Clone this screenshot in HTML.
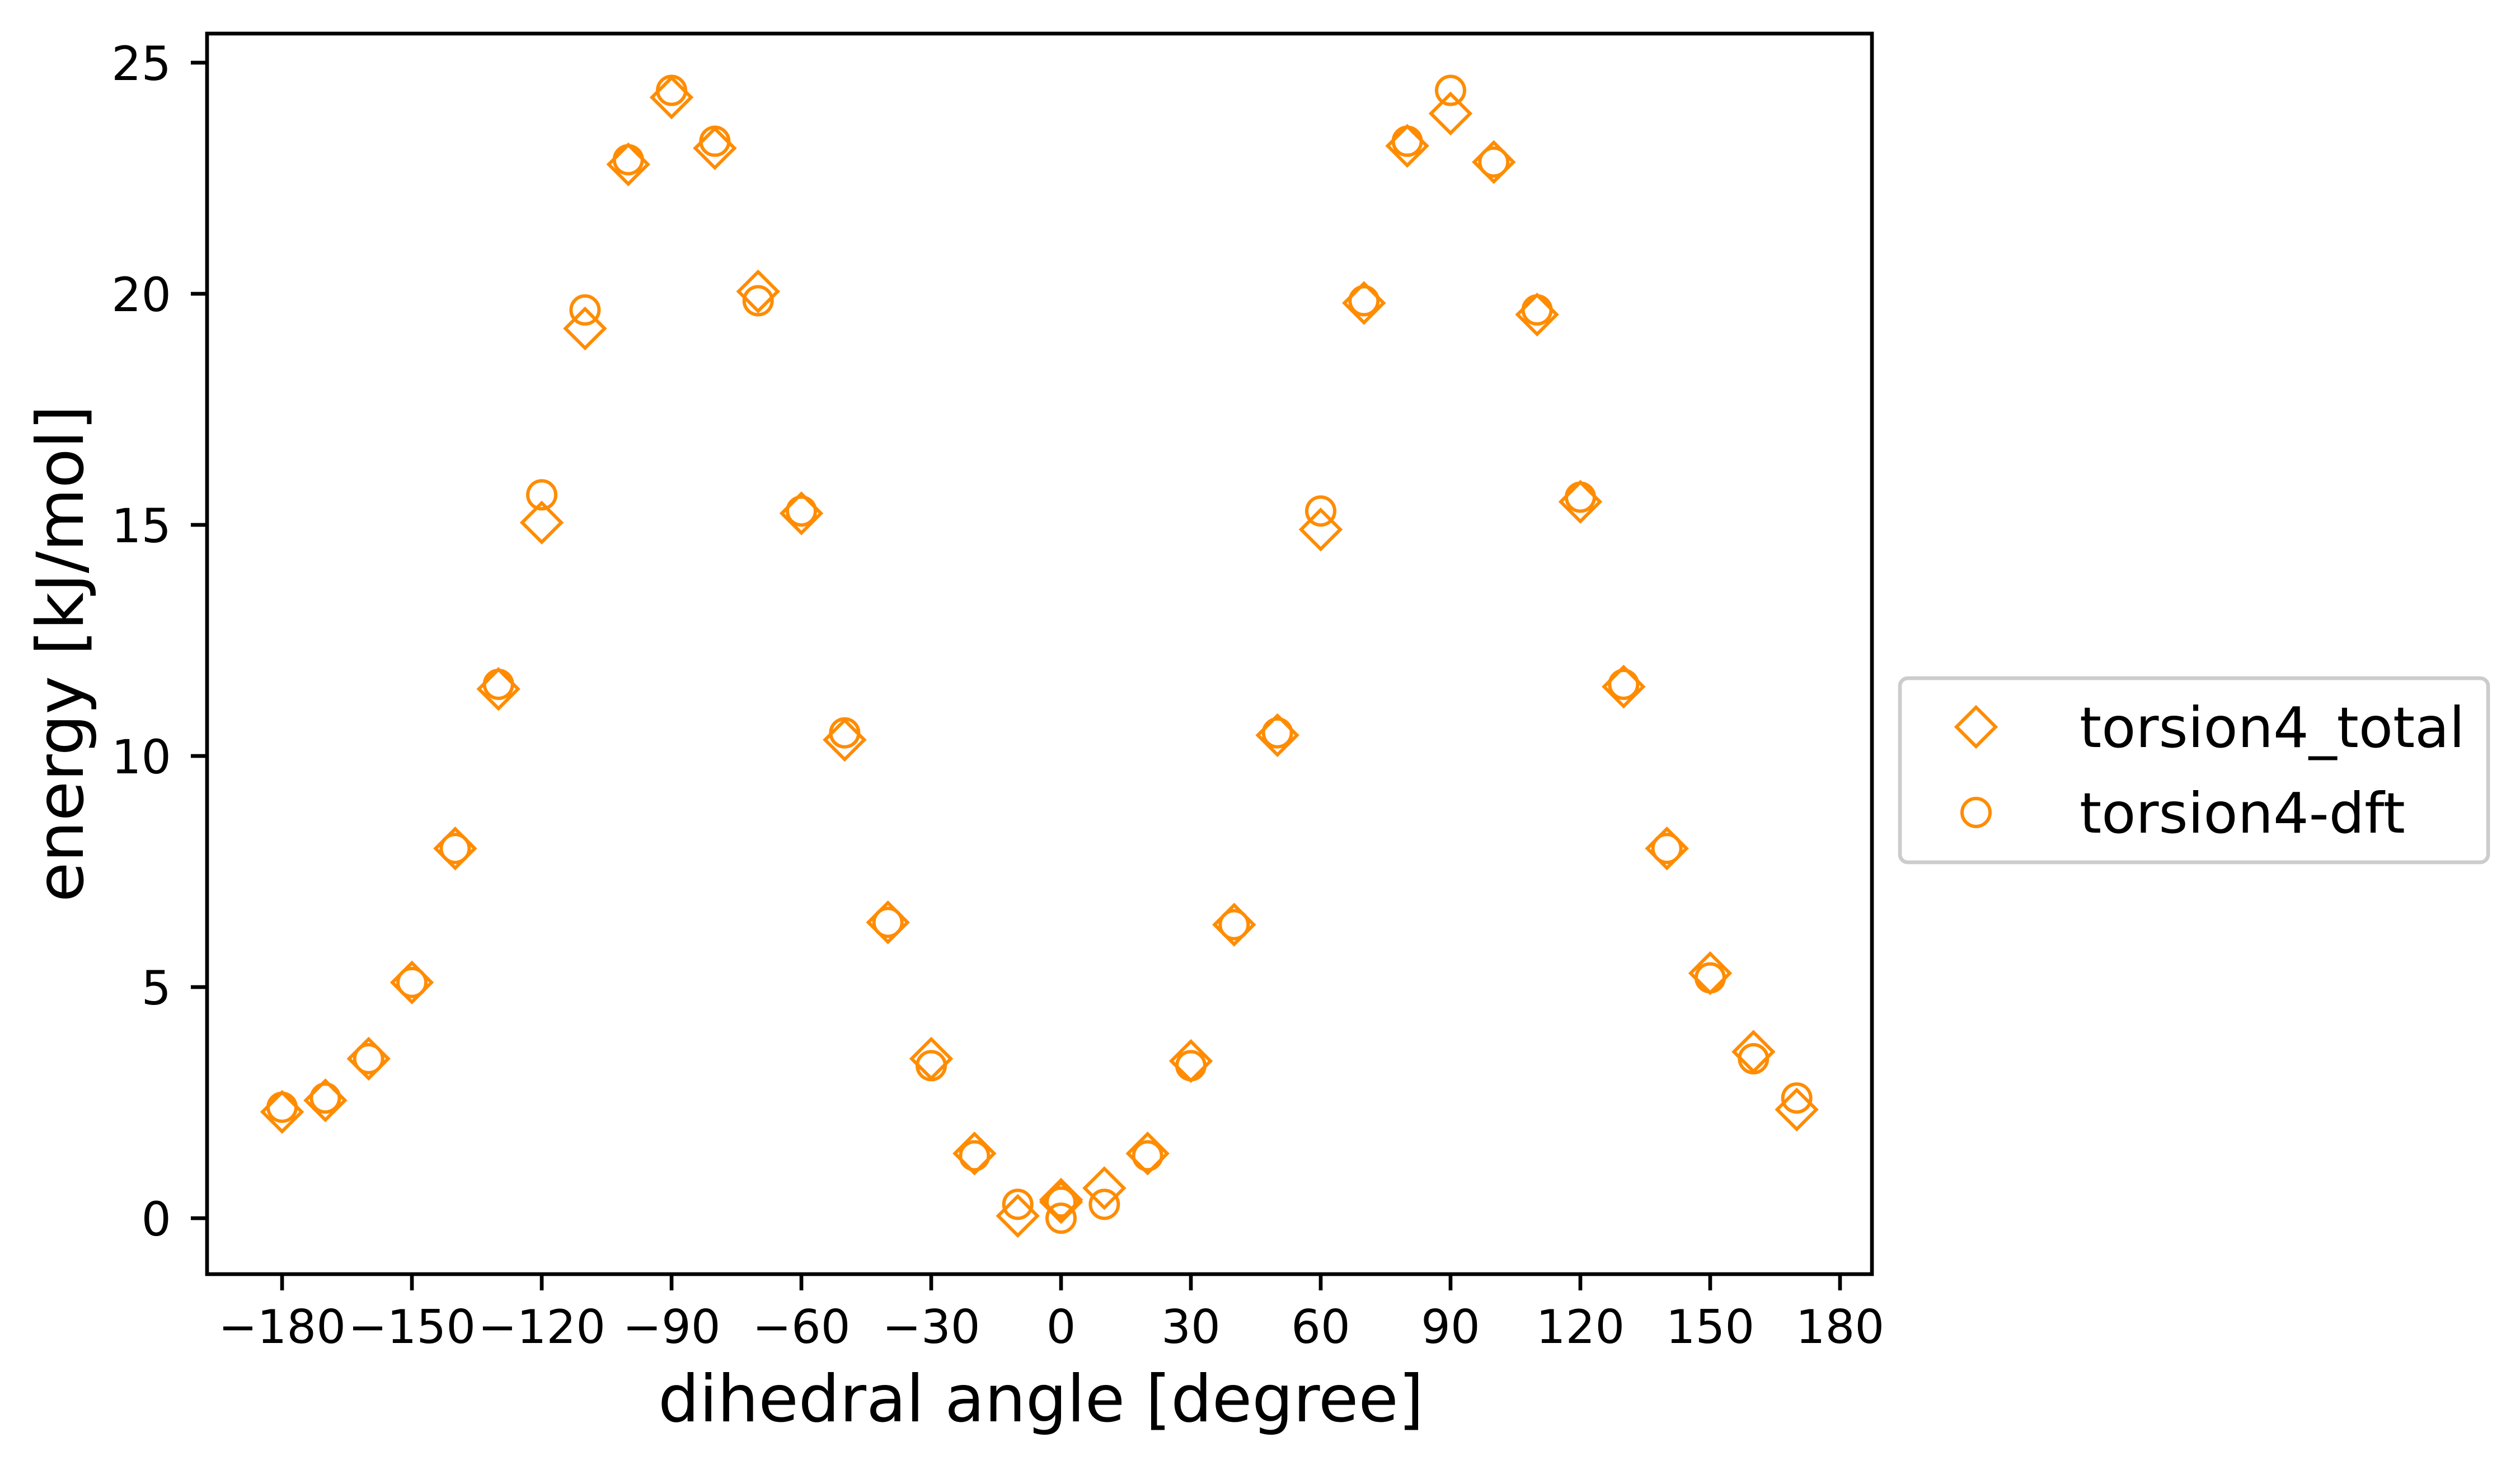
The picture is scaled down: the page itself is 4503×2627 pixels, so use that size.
<!DOCTYPE html>
<html><head><meta charset="utf-8"><style>
html,body{margin:0;padding:0;background:#fff;}
svg text{font-family:"DejaVu Sans","Liberation Sans",sans-serif;}
</style></head><body>
<svg id="chart" width="4503" height="2622" viewBox="0 0 4503 2622" xmlns="http://www.w3.org/2000/svg">
<rect x="0" y="0" width="4503" height="2622" fill="#fff"/>
<g id="marks"></g>
<rect x="370" y="60" width="2975" height="2217" fill="none" stroke="#000" stroke-width="6.7"/>
<g id="xticks"></g><g id="yticks"></g>
<text x="1860" y="2540" font-size="116" text-anchor="middle">dihedral angle [degree]</text>
<text x="0" y="0" font-size="116" text-anchor="middle" transform="translate(148,1168) rotate(-90)">energy [kJ/mol]</text>
<g transform="translate(-20,-9)">
<rect x="3415" y="1221" width="1051" height="329" rx="14" fill="#fff" fill-opacity="0.8" stroke="#cccccc" stroke-width="6.7"/>
<polygon points="3551,1273 3586,1308 3551,1343 3516,1308" fill="none" stroke="#ff8c00" stroke-width="6"/>
<text x="3736" y="1344" font-size="100">torsion4_total</text>
<circle cx="3551" cy="1461" r="25" fill="none" stroke="#ff8c00" stroke-width="6"/>
<text x="3736" y="1497" font-size="100">torsion4-dft</text>
</g>
</svg>
<script>
const angles = [-180,-170,-160,-150,-140,-130,-120,-110,-100,-90,-80,-70,-60,-50,-40,-30,-20,-10,0,0,10,20,30,40,50,60,70,80,90,100,110,120,130,140,150,160,170];
const totalEnergy = [2.3,2.55,3.45,5.1,8.0,11.45,15.05,19.25,22.8,24.25,23.15,20.05,15.25,10.35,6.4,3.45,1.4,0.05,0.4,0.35,0.65,1.4,3.4,6.35,10.45,14.9,19.8,23.2,23.9,22.85,19.55,15.5,11.5,8.0,5.3,3.6,2.35];
const dftEnergy = [2.4,2.6,3.45,5.1,8.0,11.55,15.65,19.65,22.9,24.4,23.3,19.85,15.3,10.5,6.4,3.3,1.35,0.3,0.0,0.35,0.3,1.35,3.3,6.35,10.5,15.3,19.85,23.3,24.4,22.85,19.65,15.6,11.55,8.0,5.2,3.45,2.6];
const xTicks = [-180,-150,-120,-90,-60,-30,0,30,60,90,120,150,180];
const yTicks = [0,5,10,15,20,25];
const NS = "http://www.w3.org/2000/svg";
function sx(v){return 1896 + v*7.733;}
function sy(v){return 2177 - v*82.6;}
function mk(tag, attrs, parent){const e=document.createElementNS(NS,tag);for(const k in attrs)e.setAttribute(k,attrs[k]);parent.appendChild(e);return e;}
const marks=document.getElementById('marks');
angles.forEach((a,i)=>{
  const x=sx(a), y=sy(totalEnergy[i]);
  const d=mk('polygon',{points:`${x},${y-35} ${x+35},${y} ${x},${y+35} ${x-35},${y}`,fill:'none',stroke:'#ff8c00','stroke-width':6},marks);
  
  
});
angles.forEach((a,i)=>{
  const c=mk('circle',{cx:sx(a),cy:sy(dftEnergy[i]),r:25,fill:'none',stroke:'#ff8c00','stroke-width':6},marks);
  
  
});
const xg=document.getElementById('xticks');
xTicks.forEach(t=>{
  const x=sx(t);
  const l=mk('line',{x1:x,x2:x,y1:2277,y2:2306,stroke:'#000','stroke-width':6.7},xg);
  
  
  const tx=mk('text',{x:x,y:2400,'font-size':83,'text-anchor':'middle'},xg);
  tx.textContent=(t<0?'\u2212'+(-t):String(t));
  
  
});
const yg=document.getElementById('yticks');
yTicks.forEach(t=>{
  const y=sy(t);
  const l=mk('line',{x1:341,x2:370,y1:y,y2:y,stroke:'#000','stroke-width':6.7},yg);
  
  
  const tx=mk('text',{x:306,y:y+31,'font-size':84,'text-anchor':'end'},yg);
  tx.textContent=String(t);
  
  
});
</script>
</body></html>
